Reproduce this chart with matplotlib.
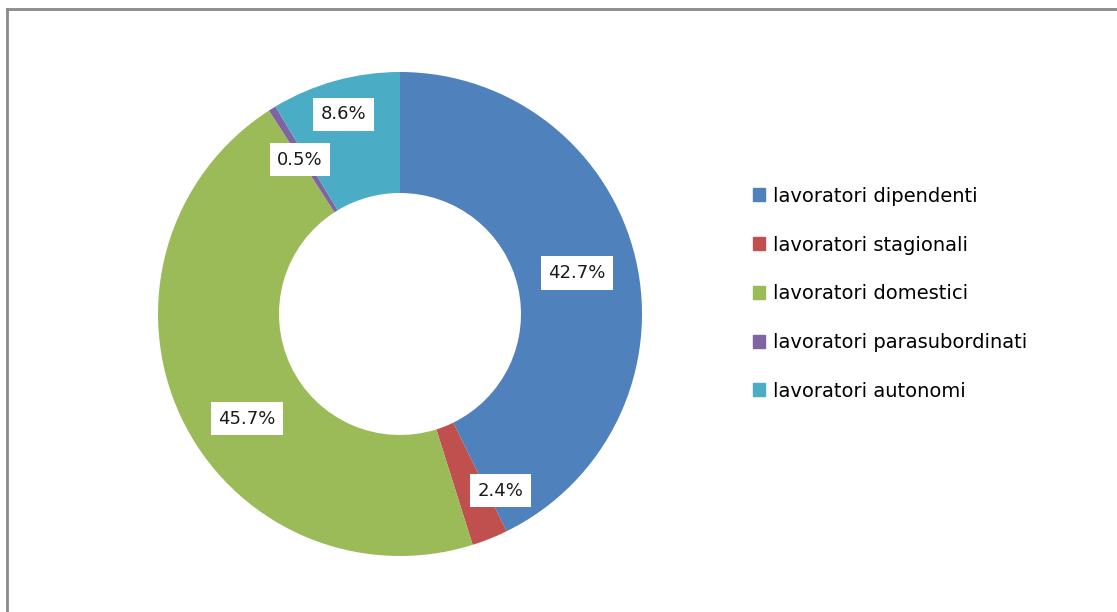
import matplotlib.pyplot as plt
import matplotlib.patches as mpatches
from matplotlib.lines import Line2D
import numpy as np

# worker categories and their share (%)
categories = ["lavoratori dipendenti", "lavoratori stagionali", "lavoratori domestici",
              "lavoratori parasubordinati", "lavoratori autonomi"]
shares = [42.7, 2.4, 45.7, 0.5, 8.6]
colors = ["#4F81BD", "#C0504D", "#9BBB59", "#8064A2", "#4BACC6"]
# small nudges (points) for the value boxes so they don't sit on the slice edges
label_nudge = [(0, 0), (24, -6), (8, -20), (-3, 0), (-6, 18)]

W, H = 1117, 612
fig = plt.figure(figsize=(W / 100, H / 100), dpi=100)

# chart frame (only top and left edges are visible)
fig.add_artist(Line2D([7 / W, 7 / W], [0, 1 - 9 / H], transform=fig.transFigure,
                      color="#8a8a8a", lw=2))
fig.add_artist(Line2D([7 / W, 1], [1 - 9 / H, 1 - 9 / H], transform=fig.transFigure,
                      color="#8a8a8a", lw=2))

# donut axes, centre at (400, 314) px, outer radius 242 px
cx, cy, R, half = 400, 314, 242, 260
ax = fig.add_axes([(cx - half) / W, (H - cy - half) / H, 2 * half / W, 2 * half / H])
wedges, _ = ax.pie(shares, colors=colors, startangle=90, counterclock=False,
                   radius=1, wedgeprops=dict(width=0.5, linewidth=0))
ax.set_xlim(-half / R, half / R)
ax.set_ylim(-half / R, half / R)
ax.set_aspect("equal")
ax.axis("off")

cum = np.cumsum([0] + shares[:-1])
total = sum(shares)
for s, c0, (dx, dy) in zip(shares, cum, label_nudge):
    mid = 90 - 360 * (c0 + s / 2) / total
    r = 0.75
    x, y = r * np.cos(np.radians(mid)), r * np.sin(np.radians(mid))
    ax.annotate(f"{s:.1f}%", (x, y), xytext=(dx, dy), textcoords="offset points",
                ha="center", va="center", fontsize=13, color="#1a1a1a",
                bbox=dict(boxstyle="square,pad=0.42", fc="white", ec="none"))

handles = [mpatches.Patch(color=c, label=l) for c, l in zip(colors, categories)]
fig.legend(handles=handles, loc="upper left", bbox_to_anchor=(745 / W, 1 - 179 / H),
           frameon=False, fontsize=14, handlelength=0.65, handleheight=0.65,
           handletextpad=0.4, labelspacing=1.53, borderaxespad=0)

fig.savefig("out.png", dpi=100)
